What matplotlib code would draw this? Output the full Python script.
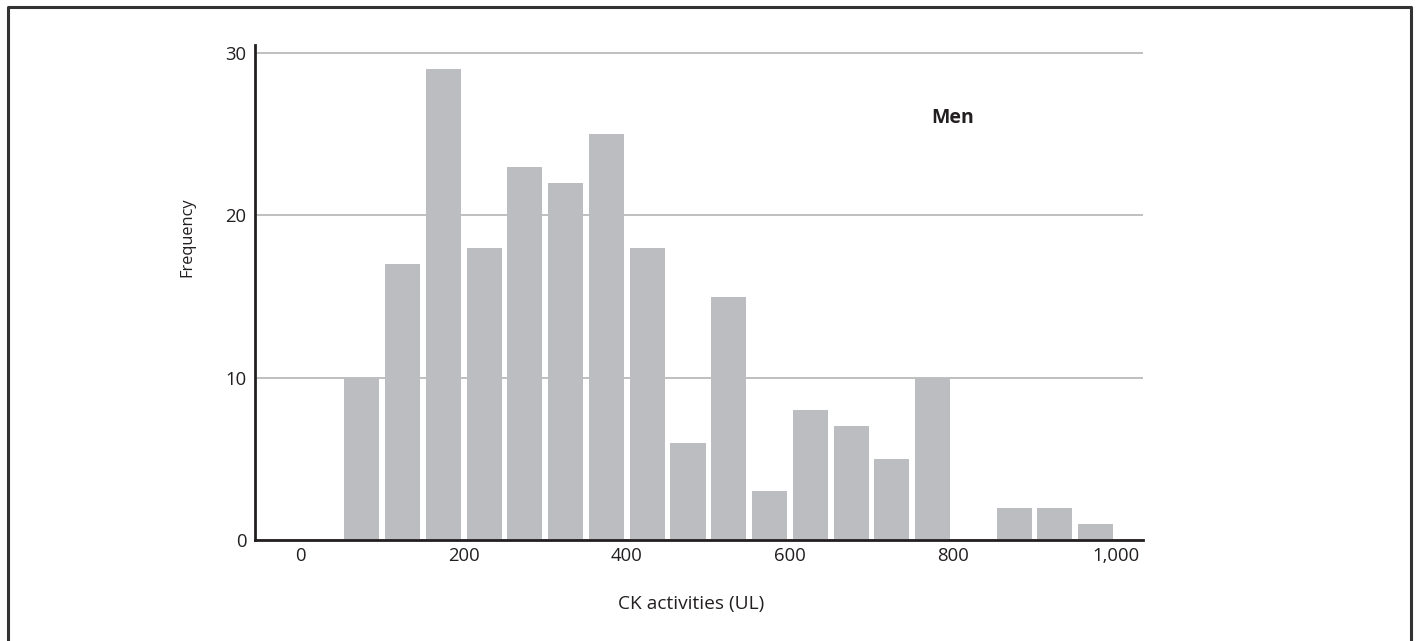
import matplotlib
matplotlib.use("Agg")
import matplotlib.pyplot as plt
from matplotlib.lines import Line2D

plt.rcParams['font.family'] = ['Open Sans', 'DejaVu Sans']

# bin centres (CK activity, UL) and counts
bin_centers = [75, 125, 175, 225, 275, 325, 375, 425, 475, 525,
               575, 625, 675, 725, 775, 825, 875, 925, 975]
frequency = [10, 17, 29, 18, 23, 22, 25, 18, 6, 15,
             3, 8, 7, 5, 10, 0, 2, 2, 1]
x_ticks = [0, 200, 400, 600, 800, 1000]
x_tick_labels = ['0', '200', '400', '600', '800', '1,000']
y_ticks = [0, 10, 20, 30]

W, H = 1417, 641
fig = plt.figure(figsize=(W / 100, H / 100), dpi=100)
ax = fig.add_axes([255 / W, (H - 540) / H, (1143 - 255) / W, (540 - 45) / H])

ax.bar(bin_centers, frequency, width=43, color='#bcbdc1', zorder=2)

ax.set_xlim(-56, 1033)
ax.set_ylim(0, 30.5)
ax.set_xticks(x_ticks)
ax.set_xticklabels(x_tick_labels)
ax.set_yticks(y_ticks)
ax.tick_params(length=0, labelsize=13.3, colors='#231f20')
ax.tick_params(axis='y', pad=6)
ax.tick_params(axis='x', pad=5)

ax.yaxis.grid(True, color='#b4b4b4', linewidth=1.2, zorder=1)
ax.set_axisbelow(True)

for side in ['top', 'right']:
    ax.spines[side].set_visible(False)
for side in ['left', 'bottom']:
    ax.spines[side].set_color('#231f20')
    ax.spines[side].set_linewidth(2)
    ax.spines[side].set_zorder(3)

fig.text(187 / W, 1 - 237 / H, 'Frequency', rotation=90, ha='center', va='center',
         fontsize=11.8, color='#231f20')
fig.text(691 / W, 1 - 604 / H, 'CK activities (UL)', ha='center', va='center',
         fontsize=13.8, color='#231f20')
fig.text(953 / W, 1 - 118 / H, 'Men', ha='center', va='center',
         fontsize=14, fontweight='bold', color='#231f20')

# open frame around the figure
fig.add_artist(Line2D([8 / W, 8 / W, 1411 / W, 1411 / W],
                      [0, 1 - 7 / H, 1 - 7 / H, 0],
                      transform=fig.transFigure, color='#333333', linewidth=2.2))

fig.savefig('out.png', dpi=100)
